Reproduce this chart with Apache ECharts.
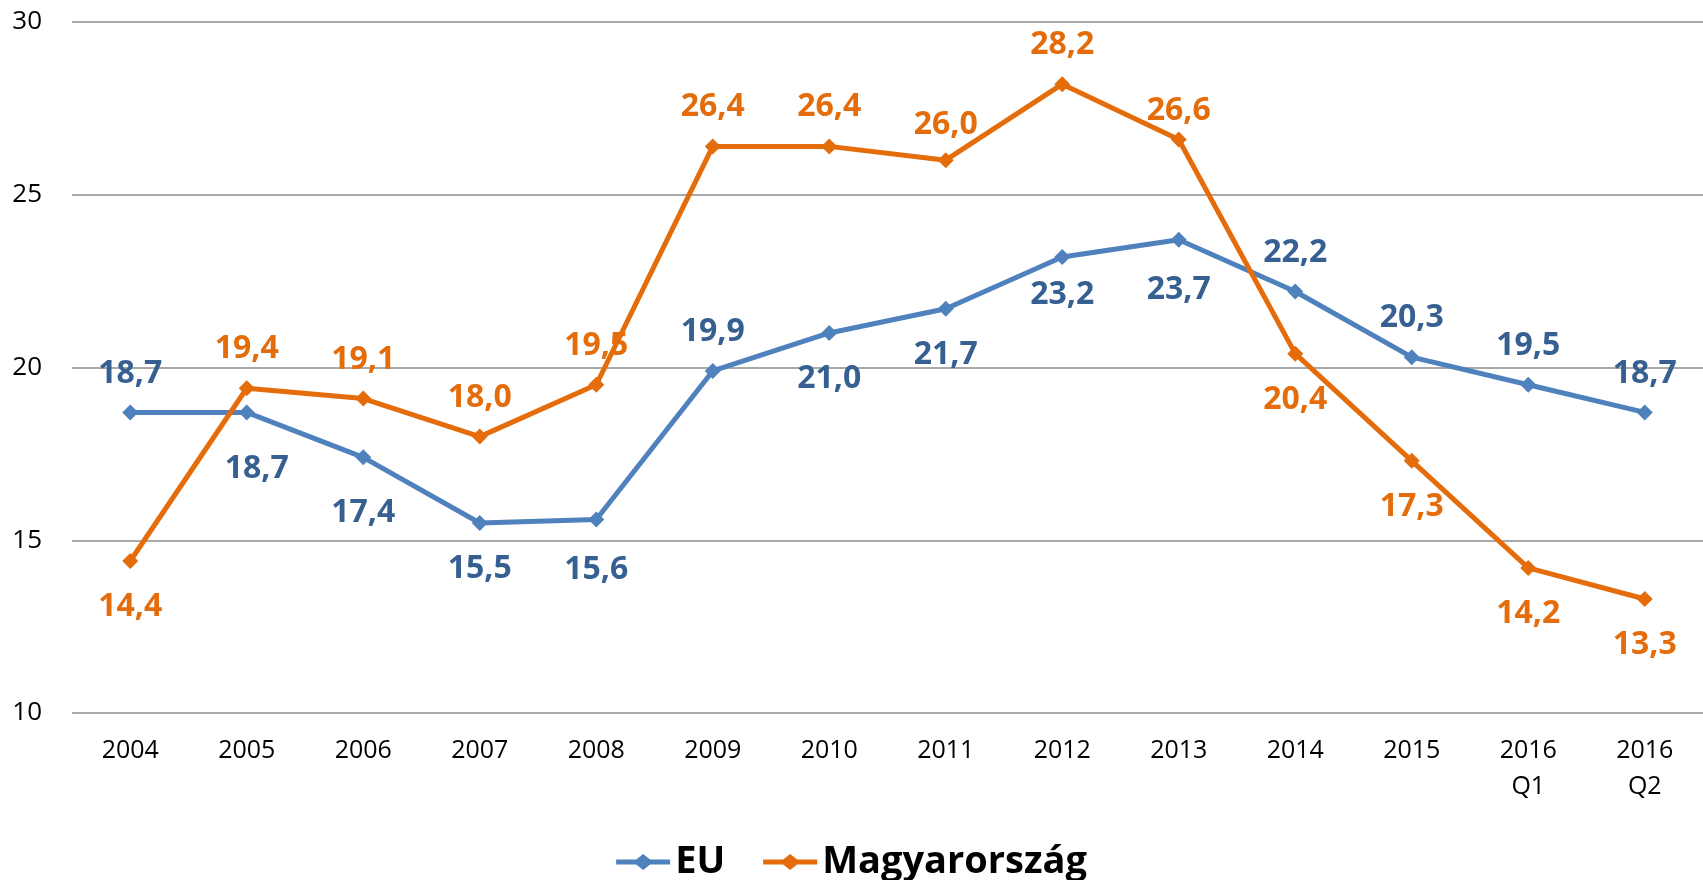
<!DOCTYPE html>
<html>
<head>
<meta charset="utf-8">
<script src="https://cdn.jsdelivr.net/npm/echarts@6/dist/echarts.min.js"></script>
<style>
    html, body { margin: 0; padding: 0; background: #fff; }
    #main { width: 1703px; height: 880px; }
</style>
</head>
<body>
<div id="main"></div>
<script>
var categories = ['2004', '2005', '2006', '2007', '2008', '2009', '2010', '2011', '2012', '2013', '2014', '2015', '2016\nQ1', '2016\nQ2'];
var euValues = [18.7, 18.7, 17.4, 15.5, 15.6, 19.9, 21.0, 21.7, 23.2, 23.7, 22.2, 20.3, 19.5, 18.7];
var huValues = [14.4, 19.4, 19.1, 18.0, 19.5, 26.4, 26.4, 26.0, 28.2, 26.6, 20.4, 17.3, 14.2, 13.3];

// label placement per point (above / below the marker) and small manual nudges [dx, dy]
var euLabelPos = ['top', 'bottom', 'bottom', 'bottom', 'bottom', 'top', 'bottom', 'bottom', 'bottom', 'bottom', 'top', 'top', 'top', 'top'];
var huLabelPos = ['bottom', 'top', 'top', 'top', 'top', 'top', 'top', 'top', 'top', 'top', 'bottom', 'bottom', 'bottom', 'bottom'];
var euLabelNudge = [[0, 0], [10, 10], [0, 10], [0, 0], [0, 4], [0, 0], [0, 0], [0, 0], [0, -8], [0, 4], [0, 0], [0, 0], [0, 0], [0, 0]];
var huLabelNudge = [[0, 0], [0, 0], [0, 0], [0, 0], [0, 0], [0, 0], [0, 0], [0, 4], [0, 0], [0, 10], [0, 0], [0, 0], [0, 0], [0, 0]];

var EU_LINE = '#4F81BD', EU_TEXT = '#376092', HU_LINE = '#E46C0A';
var FONT = '"Open Sans", sans-serif';
// line-with-diamond legend marker
var LEGEND_ICON = 'path://M0,5.5 L20,5.5 L27,0 L34,5.5 L54,5.5 L54,10.5 L34,10.5 L27,16 L20,10.5 L0,10.5 Z';

function fmt(p) {
    return p.value.toFixed(1).replace('.', ',');
}

function buildData(values, positions, nudge) {
    return values.map(function (v, i) {
        return {
            value: v,
            label: {
                position: positions[i],
                distance: positions[i] === 'top' ? 14 : 21,
                offset: nudge[i]
            }
        };
    });
}

function makeSeries(name, values, positions, nudge, lineColor, textColor) {
    return {
        name: name,
        type: 'line',
        data: buildData(values, positions, nudge),
        symbol: 'diamond',
        symbolSize: 16,
        itemStyle: { color: lineColor },
        lineStyle: { color: lineColor, width: 5 },
        label: {
            show: true,
            formatter: fmt,
            color: textColor,
            fontFamily: FONT,
            fontWeight: 'bold',
            fontSize: 32,
            lineHeight: 34
        },
        emphasis: { disabled: true },
        animation: false
    };
}

var myChart = echarts.init(document.getElementById('main'));
var option = {
    backgroundColor: '#ffffff',
    legend: {
        top: 838,
        left: 'center',
        itemWidth: 54,
        itemHeight: 16,
        itemGap: 38,
        textStyle: { fontFamily: FONT, fontWeight: 'bold', fontSize: 38, color: '#000' },
        data: [
            { name: 'EU', icon: LEGEND_ICON },
            { name: 'Magyarország', icon: LEGEND_ICON }
        ]
    },
    grid: {
        left: 72,
        right: 0,
        top: 22,
        bottom: 167
    },
    xAxis: {
        type: 'category',
        data: categories,
        boundaryGap: true,
        axisLine: { show: false },
        axisTick: { show: false },
        axisLabel: { fontFamily: FONT, fontSize: 25, color: '#000', margin: 20, lineHeight: 36 }
    },
    yAxis: {
        type: 'value',
        min: 10,
        max: 30,
        interval: 5,
        axisLine: { show: false },
        axisTick: { show: false },
        axisLabel: { fontFamily: FONT, fontSize: 26, color: '#000', margin: 30 },
        splitLine: { lineStyle: { color: '#8C8C8C', width: 1.5 } }
    },
    series: [
        makeSeries('EU', euValues, euLabelPos, euLabelNudge, EU_LINE, EU_TEXT),
        makeSeries('Magyarország', huValues, huLabelPos, huLabelNudge, HU_LINE, HU_LINE)
    ]
};
myChart.setOption(option);
</script>
</body>
</html>
